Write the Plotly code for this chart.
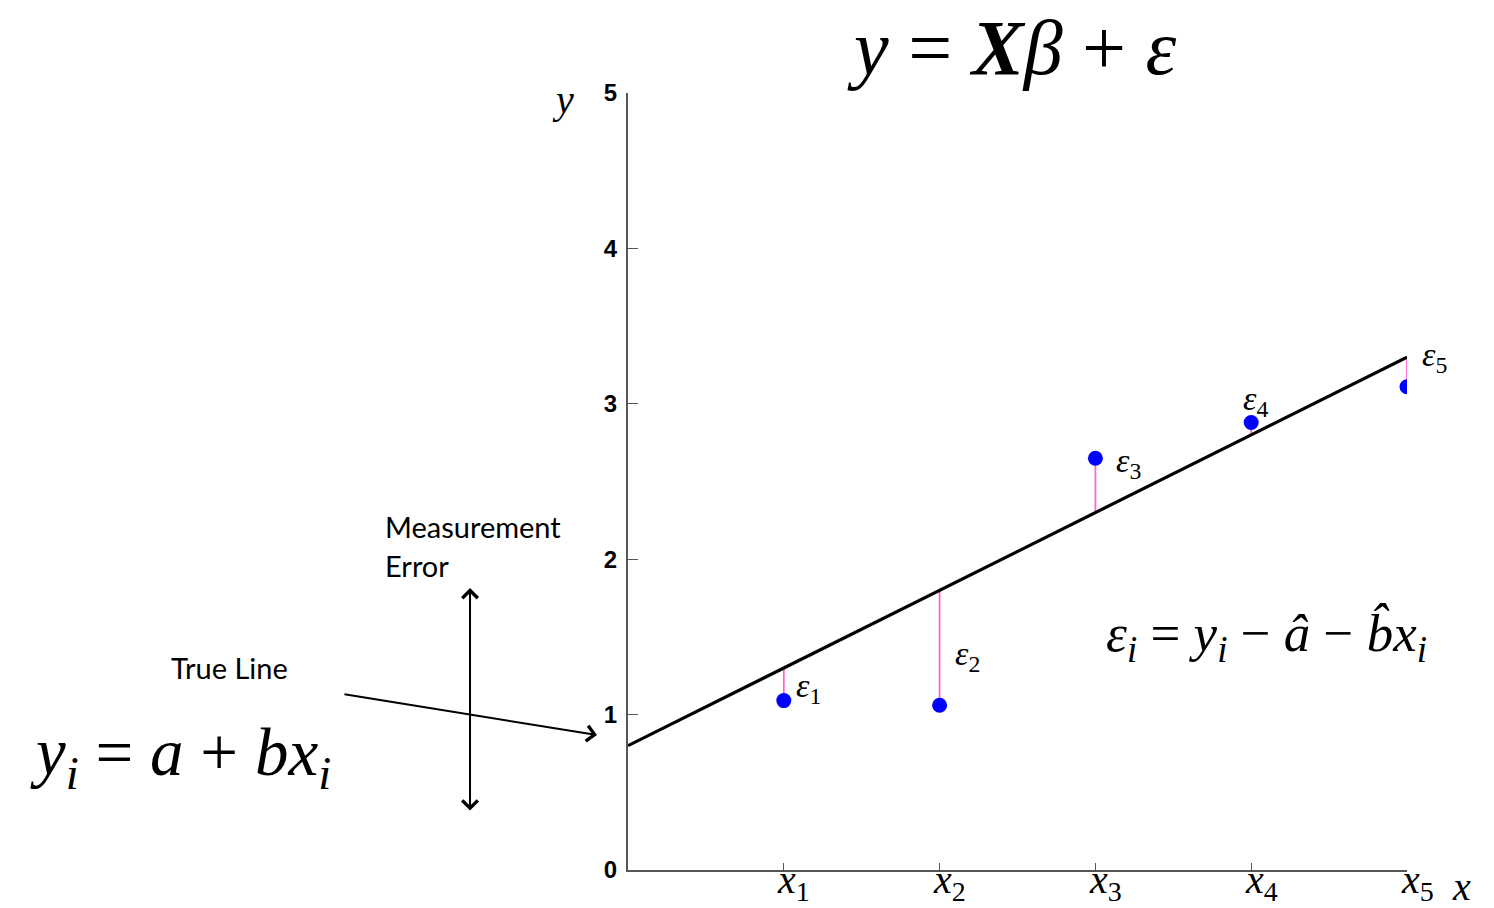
import plotly.graph_objects as go

# Observations and the underlying regression line
x_pts = [1, 2, 3, 4, 5]
y_obs = [1.09, 1.06, 2.65, 2.88, 3.11]
y_fit = [1.30, 1.80, 2.30, 2.80, 3.30]
line_x = [0, 5]
line_y = [0.80, 3.30]
y_ticks = [0, 1, 2, 3, 4, 5]
x_tick_labels = ["1", "2", "3", "4", "5"]
eps_labels = ["1", "2", "3", "4", "5"]

SERIF = "Liberation Serif, Times New Roman, serif"
SANS = "Lato, Open Sans, sans-serif"
BLACK = "#000000"
PINK = "#ff66cc"
BLUE = "#0000ff"
AXIS = "#555555"

fig = go.Figure()

# residuals: vertical segments from each observation to the line
res_x, res_y = [], []
for xv, yo, yf in zip(x_pts, y_obs, y_fit):
    res_x += [xv, xv, None]
    res_y += [yo, yf, None]
fig.add_trace(go.Scatter(x=res_x, y=res_y, mode="lines",
                         line=dict(color=PINK, width=1.8),
                         hoverinfo="skip", showlegend=False))

fig.add_trace(go.Scatter(x=line_x, y=line_y, mode="lines",
                         line=dict(color=BLACK, width=3.2),
                         showlegend=False))

fig.add_trace(go.Scatter(x=x_pts, y=y_obs, mode="markers",
                         marker=dict(color=BLUE, size=15),
                         showlegend=False))

ann = []


def text_ann(x, y, text, size, family=SERIF, xanchor="center",
             yanchor="middle", xref="paper", yref="paper", **kw):
    ann.append(dict(x=x, y=y, xref=xref, yref=yref, text=text,
                    xanchor=xanchor, yanchor=yanchor, showarrow=False,
                    font=dict(family=family, size=size, color=BLACK), **kw))


# x tick labels x_1 ... x_5
for xv, lab in zip(x_pts, x_tick_labels):
    text_ann(xv, 0, f"<i>x</i><sub>{lab}</sub>", 40, xref="x",
             xshift=10, yshift=-12)

# residual labels
eps_offsets = [(10, 1.17), (13, 1.38), (19, 2.62), (-10, 3.02), (13, 3.30)]
for xv, lab, (dx, yl) in zip(x_pts, eps_labels, eps_offsets):
    text_ann(xv, yl, f"<i>ε</i><sub>{lab}</sub>", 34, xref="x", yref="y",
             xanchor="left", xshift=dx)

# axis names
text_ann(-0.083, 0.991, "<i>y</i>", 40)
text_ann(1.0706, -0.021, "<i>x</i>", 40)

# equations
text_ann(0.493, 1.059, "<i>y</i> = <b><i>X</i></b><i>β</i> + <i>ε</i>", 78)
text_ann(0.819, 0.300,
         "<i>ε<sub>i</sub></i> = <i>y<sub>i</sub></i> − <i>â</i> − <i>b̂x<sub>i</sub></i>",
         53)
text_ann(-0.574, 0.1454, "<i>y<sub>i</sub></i> = <i>a</i> + <i>bx<sub>i</sub></i>", 67)

# text labels
text_ann(-0.512, 0.261, "True Line", 29, family=SANS)
text_ann(-0.314, 0.4415, "Measurement", 29, family=SANS, xanchor="left")
text_ann(-0.314, 0.3913, "Error", 29, family=SANS, xanchor="left")

# arrows
ann.append(dict(x=-0.0398, y=0.1737, xref="paper", yref="paper",
                ax=-254, ay=-41, text="", showarrow=True,
                arrowhead=4, arrowsize=1.5, arrowwidth=2,
                arrowcolor=BLACK))
ann.append(dict(x=-0.2028, y=0.3629, xref="paper", yref="paper",
                ax=0, ay=224, text="", showarrow=True,
                arrowhead=4, startarrowhead=4, arrowside="end+start",
                arrowsize=1.5, startarrowsize=1.5, arrowwidth=2,
                arrowcolor=BLACK))

fig.update_layout(
    width=1494, height=908,
    margin=dict(l=628, r=87, t=93, b=38),
    paper_bgcolor="white", plot_bgcolor="white",
    annotations=ann,
    xaxis=dict(range=[0, 5], showgrid=False, zeroline=False,
               showline=True, linecolor=AXIS, linewidth=2,
               tickvals=x_pts, ticks="inside", ticklen=7, tickwidth=1,
               tickcolor=AXIS, showticklabels=False),
    yaxis=dict(range=[0, 5], showgrid=False, zeroline=False,
               showline=True, linecolor=AXIS, linewidth=2,
               tickvals=y_ticks, ticks="inside", ticklen=10, tickwidth=1,
               tickcolor=AXIS, ticklabelstandoff=4,
               tickfont=dict(family="Liberation Sans, Arial, sans-serif",
                             size=24, color=BLACK, weight="bold")),
)

fig.write_html("out.html")
